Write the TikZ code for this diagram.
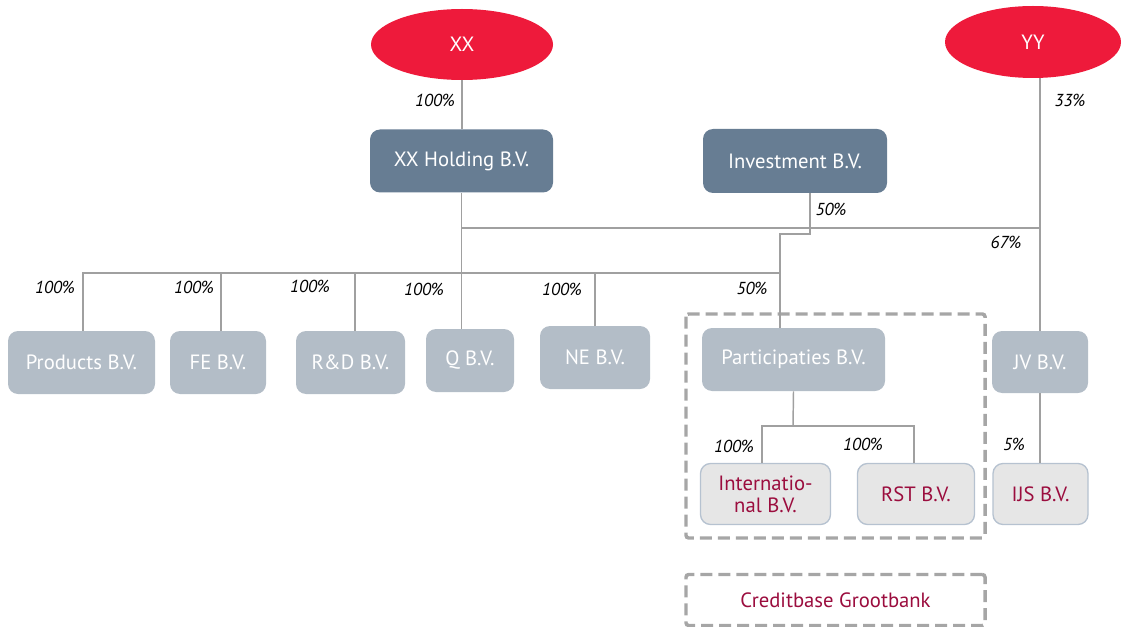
\documentclass[tikz,border=0pt]{standalone}
\usepackage{fontspec}
\setmainfont{PT Sans}
\usetikzlibrary{shapes.geometric}
\definecolor{ered}{RGB}{238,26,59}
\definecolor{darkbox}{RGB}{103,125,147}
\definecolor{lightbox}{RGB}{179,189,199}
\definecolor{palebox}{RGB}{230,230,230}
\definecolor{paleborder}{RGB}{182,194,208}
\definecolor{maroon}{RGB}{155,13,62}
\definecolor{linegray}{RGB}{160,160,160}
\definecolor{dashgray}{RGB}{166,166,166}
\tikzset{
  x=0.75pt, y=-0.75pt,
  boxtext/.style={font=\fontsize{15.5}{16.5}\selectfont, align=center, inner sep=0pt},
  owner/.style={ellipse, fill=ered, text=white, boxtext},
  darkb/.style={rectangle, rounded corners=7.5pt, fill=darkbox, text=white, boxtext},
  lightb/.style={rectangle, rounded corners=7.5pt, fill=lightbox, text=white, boxtext},
  paleb/.style={rectangle, rounded corners=7.5pt, fill=palebox, draw=paleborder, line width=1pt, text=maroon, boxtext},
  dashbox/.style={draw=dashgray, line width=2.6pt, dash pattern=on 9pt off 4.5pt, rounded corners=2pt},
  conn/.style={draw=linegray, line width=1.1pt},
  pct/.style={font=\fontsize{13}{14}\selectfont\itshape, inner sep=0pt}
}
\begin{document}
\begin{tikzpicture}
\useasboundingbox (0,0) rectangle (1123,627);
% dashed groupings
\draw[dashbox] (686,314) rectangle (985,538);
\node[dashbox, minimum width=299*0.75pt, minimum height=51*0.75pt, text=maroon, boxtext] (cgb) at (835.5,600) {Creditbase Grootbank};
% owners
\node[owner, minimum width=182*0.75pt, minimum height=71*0.75pt] (xx) at (462,44.5) {XX};
\node[owner, minimum width=176*0.75pt, minimum height=72*0.75pt] (yy) at (1033,42) {YY};
% holdings
\node[darkb, minimum width=183*0.75pt, minimum height=63*0.75pt] (xxh) at (461.5,161) {XX Holding B.V.};
\node[darkb, minimum width=184*0.75pt, minimum height=64*0.75pt] (inv) at (795,161) {Investment B.V.};
% subsidiaries
\node[lightb, minimum width=147*0.75pt, minimum height=63*0.75pt] (prod) at (81.5,362.5) {Products B.V.};
\node[lightb, minimum width=96*0.75pt, minimum height=63*0.75pt] (fe) at (218,362.5) {FE B.V.};
\node[lightb, minimum width=109*0.75pt, minimum height=63*0.75pt] (rd) at (350.5,362.5) {R\&D B.V.};
\node[lightb, minimum width=88*0.75pt, minimum height=63*0.75pt] (q) at (470,360.5) {Q B.V.};
\node[lightb, minimum width=110*0.75pt, minimum height=63*0.75pt] (ne) at (595,357.5) {NE B.V.};
\node[lightb, minimum width=183*0.75pt, minimum height=63*0.75pt] (part) at (793.5,359.5) {Participaties B.V.};
\node[lightb, minimum width=96*0.75pt, minimum height=62*0.75pt] (jv) at (1040,362) {JV B.V.};
\node[paleb, minimum width=130*0.75pt, minimum height=61*0.75pt] (intl) at (765.5,494) {Internatio-\\nal B.V.};
\node[paleb, minimum width=117*0.75pt, minimum height=61*0.75pt] (rst) at (916,494) {RST B.V.};
\node[paleb, minimum width=95*0.75pt, minimum height=61*0.75pt] (ijs) at (1040.5,494) {IJS B.V.};
% junction coordinates
\coordinate (bus) at (780,273);
\coordinate (top) at (462,228);
\coordinate (invj) at (780,234);
\coordinate (pj) at (793,426);
% connectors
\draw[conn] (xx.south) -- (xx.south |- xxh.north);
\draw[conn] (xxh.south) -- (xxh.south |- q.north);
\draw[conn] (top) -- (top -| jv.north);
\draw[conn] (jv.north |- yy.south) -- (jv.north);
\draw[conn] (inv.south -| 810,0) |- (invj) -- (invj |- part.north);
\draw[conn] (83,0 |- prod.north) |- (bus);
\draw[conn] (221,0 |- fe.north) -- (221,0 |- bus);
\draw[conn] (355,0 |- rd.north) -- (355,0 |- bus);
\draw[conn] (ne.north) -- (ne.north |- bus);
\draw[conn] (part.south) -- (pj);
\draw[conn] (762,0 |- intl.north) |- (pj) -| (914,0 |- rst.north);
\draw[conn] (jv.south) -- (jv.south |- ijs.north);
% percentages
\node[pct] (p1) at (435,100) {100\%};
\node[pct] (p2) at (1070,100) {33\%};
\node[pct] (p3) at (831,209) {50\%};
\node[pct] (p4) at (1006,242) {67\%};
\node[pct] (p5) at (55,287) {100\%};
\node[pct] (p6) at (194,287) {100\%};
\node[pct] (p7) at (310,286) {100\%};
\node[pct] (p8) at (424,289) {100\%};
\node[pct] (p9) at (562,289) {100\%};
\node[pct] (p10) at (752,288) {50\%};
\node[pct] (p11) at (734,446) {100\%};
\node[pct] (p12) at (863,444) {100\%};
\node[pct] (p13) at (1014,444) {5\%};
\end{tikzpicture}
\end{document}
